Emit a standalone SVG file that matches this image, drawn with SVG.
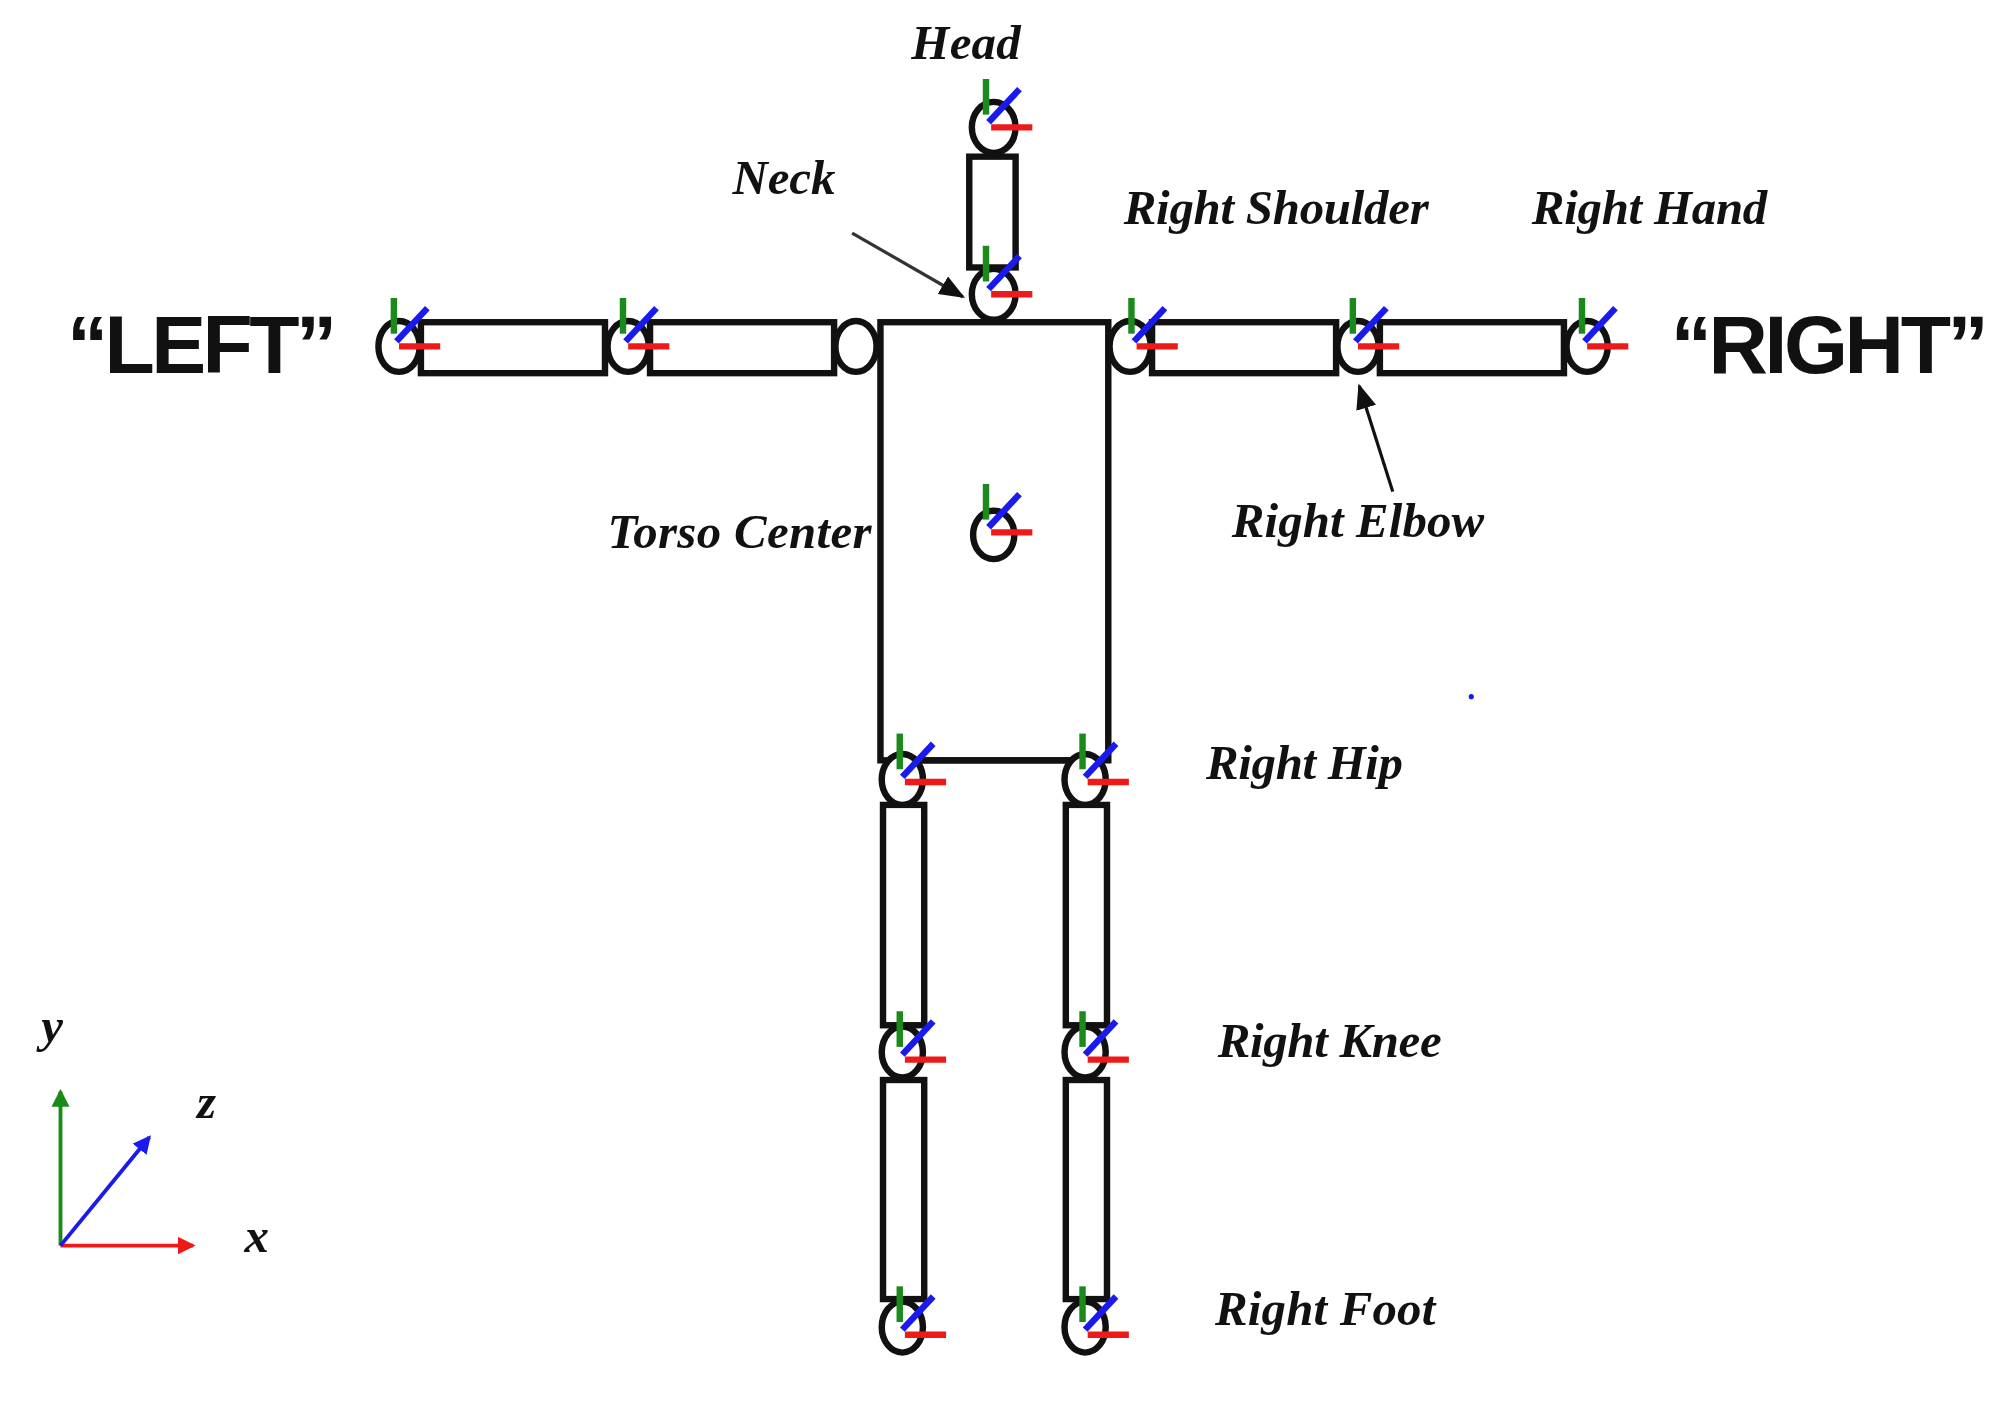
<svg xmlns="http://www.w3.org/2000/svg" width="2008" height="1401" viewBox="0 0 2008 1401">
<style>
.b{fill:#fff;stroke:#111;stroke-width:5}
.l{font-family:"Liberation Serif",serif;font-style:italic;font-weight:bold;font-size:38px;fill:#111}
.q{font-family:"Liberation Sans",sans-serif;font-weight:bold;font-size:64px;fill:#111}
.g{stroke:#1a8a1a;stroke-width:5}.bl{stroke:#1a1aee;stroke-width:5}.r{stroke:#ee1a1a;stroke-width:5}
</style>
<defs>
<g id="ax"><line class="g" x1="-6" y1="-32" x2="-6" y2="-4"/><line class="bl" x1="-4" y1="2" x2="20" y2="-24"/><line class="r" x1="-2" y1="6" x2="30" y2="6"/></g>
<marker id="ak" markerWidth="20" markerHeight="16" refX="18" refY="8" orient="auto" markerUnits="userSpaceOnUse" viewBox="0 0 20 16"><path d="M0,0L20,8L0,16z" fill="#111"/></marker>
<marker id="ag" markerWidth="14" markerHeight="14" refX="12" refY="7" orient="auto" markerUnits="userSpaceOnUse" viewBox="0 0 14 14"><path d="M0,0L14,7L0,14z" fill="#1a8a1a"/></marker>
<marker id="ar" markerWidth="14" markerHeight="14" refX="12" refY="7" orient="auto" markerUnits="userSpaceOnUse" viewBox="0 0 14 14"><path d="M0,0L14,7L0,14z" fill="#ee1a1a"/></marker>
<marker id="ab" markerWidth="14" markerHeight="14" refX="12" refY="7" orient="auto" markerUnits="userSpaceOnUse" viewBox="0 0 14 14"><path d="M0,0L14,7L0,14z" fill="#1a1aee"/></marker>
</defs>
<rect width="2008" height="1401" fill="#fff"/>
<g transform="scale(1.2872,1.2736)">
<g id="torso"><rect class="b" x="684" y="253" width="177" height="344"/><line class="b" x1="700" y1="597" x2="843" y2="597"/></g>
<g id="head"><rect class="b" x="753" y="123" width="36" height="87"/><ellipse class="b" cx="772" cy="100" rx="17" ry="20"/><use href="#ax" x="772" y="94"/></g>
<g id="neck"><ellipse class="b" cx="772" cy="231" rx="17" ry="20"/><use href="#ax" x="772" y="225"/></g>
<g id="left-arm">
<rect class="b" x="327" y="253" width="143" height="40"/><rect class="b" x="505" y="253" width="143" height="40"/>
<ellipse class="b" cx="310" cy="272" rx="16" ry="20"/><ellipse class="b" cx="488" cy="272" rx="16" ry="20"/><ellipse class="b" cx="665" cy="272" rx="16" ry="20"/>
<use href="#ax" x="312" y="266"/><use href="#ax" x="490" y="266"/></g>
<g id="right-arm">
<rect class="b" x="895" y="253" width="143" height="40"/><rect class="b" x="1072" y="253" width="143" height="40"/>
<ellipse class="b" cx="878" cy="272" rx="16" ry="20"/><ellipse class="b" cx="1055" cy="272" rx="16" ry="20"/><ellipse class="b" cx="1233" cy="272" rx="16" ry="20"/>
<use href="#ax" x="885" y="266"/><use href="#ax" x="1057" y="266"/><use href="#ax" x="1235" y="266"/></g>
<g id="torso-center"><ellipse class="b" cx="772" cy="420" rx="16" ry="19"/><use href="#ax" x="772" y="412"/></g>
<g id="legs">
<rect class="b" x="686" y="632" width="32" height="173"/><rect class="b" x="686" y="848" width="32" height="172"/>
<rect class="b" x="828" y="632" width="32" height="173"/><rect class="b" x="828" y="848" width="32" height="172"/>
<ellipse class="b" cx="701" cy="612" rx="16" ry="20"/><ellipse class="b" cx="843" cy="612" rx="16" ry="20"/>
<ellipse class="b" cx="701" cy="826" rx="16" ry="20"/><ellipse class="b" cx="843" cy="826" rx="16" ry="20"/>
<ellipse class="b" cx="701" cy="1042" rx="16" ry="20"/><ellipse class="b" cx="843" cy="1042" rx="16" ry="20"/>
<use href="#ax" x="705" y="608"/><use href="#ax" x="847" y="608"/>
<use href="#ax" x="705" y="826"/><use href="#ax" x="847" y="826"/>
<use href="#ax" x="705" y="1042"/><use href="#ax" x="847" y="1042"/></g>
<g id="labels">
<text class="l" x="708" y="46" textLength="85">Head</text>
<text class="l" x="569" y="152" textLength="80">Neck</text>
<text class="l" x="873" y="176" textLength="237">Right Shoulder</text>
<text class="l" x="1190" y="176" textLength="183">Right Hand</text>
<text class="l" x="472" y="430" textLength="205">Torso Center</text>
<text class="l" x="957" y="422" textLength="196">Right Elbow</text>
<text class="l" x="937" y="612" textLength="153">Right Hip</text>
<text class="l" x="946" y="830" textLength="174">Right Knee</text>
<text class="l" x="944" y="1040" textLength="171">Right Foot</text>
<text class="q" x="52" y="293" textLength="210">“LEFT”</text>
<text class="q" x="1298" y="293" textLength="247">“RIGHT”</text>
<text class="l" x="32" y="818">y</text><text class="l" x="153" y="878">z</text><text class="l" x="190" y="983">x</text>
</g>
<g id="connectors">
<line x1="662" y1="183" x2="748" y2="233" stroke="#333" stroke-width="2.5" marker-end="url(#ak)"/>
<line x1="1082" y1="386" x2="1056" y2="303" stroke="#111" stroke-width="2.5" marker-end="url(#ak)"/>
<line x1="47" y1="978" x2="47" y2="857" stroke="#1a8a1a" stroke-width="3" marker-end="url(#ag)"/>
<line x1="47" y1="978" x2="150" y2="978" stroke="#ee1a1a" stroke-width="3" marker-end="url(#ar)"/>
<line x1="47" y1="978" x2="116" y2="893" stroke="#1a1aee" stroke-width="3" marker-end="url(#ab)"/>
</g>
<circle cx="1143" cy="547" r="2" fill="#1a1aee"/>
</g>
</svg>
